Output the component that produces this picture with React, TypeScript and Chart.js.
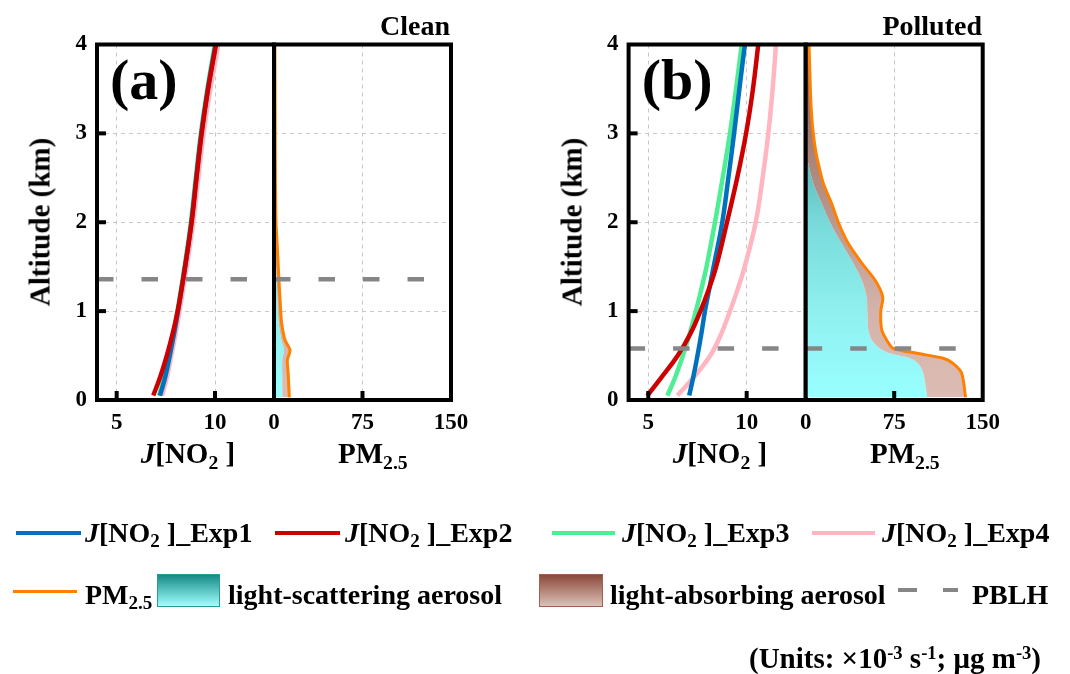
import React, { useEffect, useRef } from 'react';
import { Chart, registerables } from 'chart.js';

Chart.register(...registerables);

const FONT = "'Liberation Serif', 'Times New Roman', Times, serif";

// ---------------- data ----------------
// altitude levels of the J[NO2] profiles (km)
const ALT_J = [0.05, 0.25, 0.5, 0.75, 1, 1.25, 1.5, 2, 2.5, 3, 3.5, 4];

// Clean case, J[NO2] (x10^-3 s^-1)
const CLEAN_EXP1 = [7.2, 7.46, 7.7, 7.92, 8.12, 8.3, 8.48, 8.8, 9.05, 9.31, 9.64, 10.03];
const CLEAN_EXP2 = [6.86, 7.2, 7.55, 7.85, 8.1, 8.3, 8.48, 8.81, 9.06, 9.32, 9.65, 10.05];
const CLEAN_EXP3 = [7.15, 7.41, 7.66, 7.89, 8.09, 8.27, 8.45, 8.77, 9.02, 9.28, 9.61, 9.99];
const CLEAN_EXP4 = [7.3, 7.55, 7.78, 8.0, 8.2, 8.38, 8.56, 8.89, 9.15, 9.42, 9.76, 10.17];

// Polluted case, J[NO2]
const POLL_EXP1 = [7.08, 7.28, 7.5, 7.7, 7.88, 8.1, 8.32, 8.76, 9.07, 9.36, 9.63, 9.91];
const POLL_EXP2 = [4.95, 5.65, 6.5, 7.15, 7.65, 8.08, 8.45, 9.0, 9.52, 9.97, 10.32, 10.59];
const POLL_EXP3 = [5.97, 6.36, 6.76, 7.11, 7.42, 7.7, 7.96, 8.39, 8.78, 9.15, 9.46, 9.75];
const POLL_EXP4 = [6.48, 7.29, 8.15, 8.72, 9.15, 9.55, 9.9, 10.46, 10.81, 11.1, 11.32, 11.49];

// PM2.5 and light-scattering part (ug m^-3)
const ALT_PM_CLEAN = [0.03, 0.3, 0.45, 0.56, 0.675, 0.86, 1.0, 1.35, 1.72, 2.0, 2.5, 3.0, 4.0];
const CLEAN_PM25 = [13.0, 12.0, 11.3, 13.6, 9.3, 6.5, 5.7, 4.2, 2.8, 1.7, 1.2, 1.0, 0.8];
const CLEAN_SCAT = [7.0, 7.0, 7.0, 8.5, 6.3, 4.0, 3.3, 2.3, 1.0, 0.4, 0, 0, 0];

const ALT_PM_POLL = [0.03, 0.3, 0.41, 0.47, 0.525, 0.58, 0.675, 0.79, 1.0, 1.16, 1.35, 1.54, 1.76, 2.0, 2.21, 2.44, 2.66, 2.8, 3.0, 3.19, 3.41, 4.0];
const POLL_PM25 = [135.5, 132.2, 125.1, 116.6, 94.1, 74.2, 68.6, 64.4, 63.6, 65.3, 58.7, 47.5, 36.1, 27.6, 22.0, 14.9, 10.7, 8.5, 6.4, 5.1, 4.2, 2.8];
const POLL_SCAT = [103, 99.7, 95.4, 88.4, 71.4, 62.9, 55.9, 53.1, 52.2, 51.7, 47.5, 40.3, 30.5, 20.6, 13.6, 6.4, 2.2, 0, 0, 0, 0, 0];

const PBLH_CLEAN = 1.358;
const PBLH_POLL = 0.58;

const J_RANGE = [4, 13];
const PM_RANGE = [0, 150];
const J_TICKS = [5, 10];
const PM_TICKS = [0, 75, 150];
const ALT_TICKS = [0, 1, 2, 3, 4];
const ALT_MARKS = [1, 2, 3];
const PM_MARKS = [75];

// ---------------- styles ----------------
const C_EXP1 = '#0072BD';
const C_EXP2 = '#CC0000';
const C_EXP3 = '#4EEE94';
const C_EXP4 = '#FFB6C1';
const C_PM = '#FF8000';
const C_PBLH = '#868686';
const C_GRID = '#c8c8c8';
const CYAN_STOPS: [number, string][] = [[0, '#2a9a9a'], [0.35, '#5fbfbf'], [0.5, '#78dada'], [0.75, '#90f0f0'], [1, '#99ffff']];
const BROWN_STOPS: [number, string][] = [[0, '#94625a'], [0.125, '#9a6b60'], [0.375, '#b08a80'], [0.75, '#d4b3aa'], [1, '#dcbcb3']];

const W = 1070, H = 674, AXW = 60, AXH = 60;
const TICK_FONT = { family: FONT, size: 23, weight: 'bold' as const };

type Area = { left: number; right: number; top: number; bottom: number };

function vGrad(chart: any, stops: [number, string][]) {
  const { ctx, chartArea } = chart;
  if (!chartArea) return stops[stops.length - 1][1];
  const g = ctx.createLinearGradient(0, chartArea.top, 0, chartArea.bottom);
  stops.forEach(([p, c]) => g.addColorStop(p, c));
  return g;
}

const framePlugin = {
  id: 'frame',
  afterDatasetsDraw(chart: any, _args: any, opts: any) {
    const { ctx, chartArea: a, scales } = chart;
    ctx.save();
    ctx.strokeStyle = '#000';
    ctx.lineWidth = 4;
    ctx.strokeRect(a.left, a.top, a.right - a.left, a.bottom - a.top);
    ctx.lineCap = 'butt';
    (opts.xMarks || []).forEach((v: number) => {
      const px = scales.x.getPixelForValue(v);
      ctx.beginPath();
      ctx.moveTo(px, a.bottom);
      ctx.lineTo(px, a.bottom - 9);
      ctx.stroke();
    });
    (opts.yMarks || []).forEach((v: number) => {
      const py = scales.y.getPixelForValue(v);
      ctx.beginPath();
      ctx.moveTo(a.left, py);
      ctx.lineTo(a.left + 9, py);
      ctx.stroke();
    });
    ctx.restore();
  },
};

function pts(xs: number[], alts: number[]) {
  return alts.map((a, i) => ({ x: xs[i], y: a }));
}

function makeConfig(area: Area, xRange: number[], xTicks: number[], showY: boolean, xMarks: number[], yMarks: number[], datasets: any[]) {
  const yW = showY ? AXW : 0;
  return {
    type: 'line',
    data: { datasets },
    plugins: [framePlugin],
    options: {
      responsive: false,
      animation: false,
      events: [],
      indexAxis: 'y',
      layout: { padding: { left: area.left - yW, right: W - area.right, top: area.top, bottom: H - area.bottom - AXH } },
      plugins: { legend: { display: false }, tooltip: { enabled: false }, frame: { xMarks, yMarks } },
      scales: {
        x: {
          type: 'linear', min: xRange[0], max: xRange[1],
          afterBuildTicks: (s: any) => { s.ticks = xTicks.map((v) => ({ value: v })); },
          afterFit: (s: any) => { s.height = AXH; },
          grid: { color: C_GRID, lineWidth: 1, drawTicks: false },
          border: { display: false, dash: [4, 4] },
          ticks: { color: '#000', font: TICK_FONT, padding: 9, maxRotation: 0, autoSkip: false },
        },
        y: {
          type: 'linear', min: 0, max: 4,
          afterBuildTicks: (s: any) => { s.ticks = ALT_TICKS.map((v) => ({ value: v })); },
          afterFit: (s: any) => { s.width = yW; },
          grid: { color: C_GRID, lineWidth: 1, drawTicks: false },
          border: { display: false, dash: [4, 4] },
          ticks: { display: showY, color: '#000', font: TICK_FONT, padding: 10 },
        },
      },
    },
  };
}

function jDatasets(e1: number[], e2: number[], e3: number[], e4: number[], pblh: number) {
  const line = (label: string, xs: number[], color: string, order: number) => ({
    label, data: pts(xs, ALT_J), borderColor: color, backgroundColor: color, borderWidth: 4.5,
    pointRadius: 0, fill: false, tension: 0.4, order,
  });
  return [
    { label: 'PBLH', data: [{ x: J_RANGE[0], y: pblh }, { x: J_RANGE[1], y: pblh }], borderColor: C_PBLH, borderWidth: 4.5, borderDash: [16.5, 28], pointRadius: 0, fill: false, tension: 0, order: 0 },
    line('J[NO2]_Exp2', e2, C_EXP2, 1),
    line('J[NO2]_Exp1', e1, C_EXP1, 2),
    line('J[NO2]_Exp3', e3, C_EXP3, 3),
    line('J[NO2]_Exp4', e4, C_EXP4, 4),
  ];
}

function pmDatasets(alts: number[], pm: number[], scat: number[], pblh: number) {
  return [
    { label: 'PBLH', data: [{ x: PM_RANGE[0], y: pblh }, { x: PM_RANGE[1], y: pblh }], borderColor: C_PBLH, borderWidth: 4.5, borderDash: [16.5, 28], pointRadius: 0, fill: false, tension: 0, order: 0 },
    { label: 'light-scattering aerosol', data: pts(scat, alts), borderWidth: 0, borderColor: 'rgba(0,0,0,0)',
      backgroundColor: (c: any) => vGrad(c.chart, CYAN_STOPS), pointRadius: 0, fill: 'origin', tension: 0.25, order: 2 },
    { label: 'PM2.5', data: pts(pm, alts), borderWidth: 3, borderColor: C_PM,
      backgroundColor: (c: any) => vGrad(c.chart, BROWN_STOPS), pointRadius: 0, fill: '-1', tension: 0.25, order: 1 },
  ];
}

function ChartLayer({ build }: { build: () => any }) {
  const ref = useRef<HTMLCanvasElement | null>(null);
  useEffect(() => {
    const chart = new Chart(ref.current as HTMLCanvasElement, build());
    return () => chart.destroy();
  }, []);
  return <canvas ref={ref} width={W} height={H} style={{ position: 'absolute', left: 0, top: 0, width: W, height: H }} />;
}

const AREA_A_J: Area = { left: 97, right: 274, top: 44.5, bottom: 400 };
const AREA_A_PM: Area = { left: 274, right: 451, top: 44.5, bottom: 400 };
const AREA_B_J: Area = { left: 628.6, right: 805.7, top: 44.5, bottom: 400 };
const AREA_B_PM: Area = { left: 805.7, right: 982.7, top: 44.5, bottom: 400 };

// ---------------- text helpers ----------------
function T({ x, y, size, anchor = 'left', children }: any) {
  const tx = anchor === 'center' ? '-50%' : anchor === 'right' ? '-100%' : '0';
  return (
    <div style={{ position: 'absolute', left: x, top: y - 0.8375 * size, fontSize: size, lineHeight: `${size}px`, whiteSpace: 'nowrap', transform: `translateX(${tx})` }}>
      {children}
    </div>
  );
}
const Sub = ({ children }: any) => <span style={{ position: 'relative', top: '0.3em', fontSize: '0.68em' }}>{children}</span>;
const Sup = ({ children }: any) => <span style={{ position: 'relative', top: '-0.48em', fontSize: '0.64em' }}>{children}</span>;
const JNO2 = () => (<><i>J</i>[NO<Sub>2</Sub>{'\u00a0'}]</>);

function VText({ cx, cy, size, children }: any) {
  return (
    <div style={{ position: 'absolute', left: cx, top: cy, fontSize: size, lineHeight: `${size}px`, whiteSpace: 'nowrap', transform: 'translate(-50%, -50%) rotate(-90deg)' }}>
      {children}
    </div>
  );
}

function LegLine({ x1, x2, y, color, w }: any) {
  return <div style={{ position: 'absolute', left: x1, top: y - w / 2, width: x2 - x1, height: w, background: color }} />;
}
function LegBox({ x, y, w, h, top, bottom, border }: any) {
  return <div style={{ position: 'absolute', left: x, top: y, width: w, height: h, boxSizing: 'border-box', border: `1.5px solid ${border}`, background: `linear-gradient(to bottom, ${top}, ${bottom})` }} />;
}

export default function App() {
  return (
    <div style={{ position: 'absolute', left: 0, top: 0, width: W, height: H, background: '#fff', fontFamily: FONT, fontWeight: 'bold', color: '#000', overflow: 'hidden' }}>
      <ChartLayer build={() => makeConfig(AREA_A_J, J_RANGE, J_TICKS, true, J_TICKS, ALT_MARKS, jDatasets(CLEAN_EXP1, CLEAN_EXP2, CLEAN_EXP3, CLEAN_EXP4, PBLH_CLEAN))} />
      <ChartLayer build={() => makeConfig(AREA_A_PM, PM_RANGE, PM_TICKS, false, PM_MARKS, [], pmDatasets(ALT_PM_CLEAN, CLEAN_PM25, CLEAN_SCAT, PBLH_CLEAN))} />
      <ChartLayer build={() => makeConfig(AREA_B_J, J_RANGE, J_TICKS, true, J_TICKS, ALT_MARKS, jDatasets(POLL_EXP1, POLL_EXP2, POLL_EXP3, POLL_EXP4, PBLH_POLL))} />
      <ChartLayer build={() => makeConfig(AREA_B_PM, PM_RANGE, PM_TICKS, false, PM_MARKS, [], pmDatasets(ALT_PM_POLL, POLL_PM25, POLL_SCAT, PBLH_POLL))} />

      {/* panel (a) */}
      <VText cx={40} cy={222} size={29}>Altitude (km)</VText>
      <T x={110} y={99.5} size={58}>(a)</T>
      <T x={450} y={35} size={28} anchor="right">Clean</T>
      <T x={188} y={463} size={29} anchor="center"><JNO2 /></T>
      <T x={338} y={463} size={29}>PM<Sub>2.5</Sub></T>

      {/* panel (b) */}
      <VText cx={572} cy={222} size={29}>Altitude (km)</VText>
      <T x={641.7} y={99.5} size={58}>(b)</T>
      <T x={982} y={35} size={28} anchor="right">Polluted</T>
      <T x={720} y={463} size={29} anchor="center"><JNO2 /></T>
      <T x={870} y={463} size={29}>PM<Sub>2.5</Sub></T>

      {/* legend row 1 */}
      <LegLine x1={16} x2={81} y={533} color={C_EXP1} w={4.5} />
      <T x={85} y={542} size={28}><JNO2 />_Exp1</T>
      <LegLine x1={275} x2={340} y={533} color={C_EXP2} w={4.5} />
      <T x={345} y={542} size={28}><JNO2 />_Exp2</T>
      <LegLine x1={552} x2={615} y={533} color={C_EXP3} w={4.5} />
      <T x={622} y={542} size={28}><JNO2 />_Exp3</T>
      <LegLine x1={812} x2={875} y={533} color={C_EXP4} w={4.5} />
      <T x={882} y={542} size={28}><JNO2 />_Exp4</T>

      {/* legend row 2 */}
      <LegLine x1={13} x2={77} y={591} color={C_PM} w={3} />
      <T x={85} y={604} size={28}>PM<Sub>2.5</Sub></T>
      <LegBox x={157} y={574} w={63} h={33} top="#168a85" bottom="#a0ffff" border="#2a9a95" />
      <T x={228} y={604} size={28}>light-scattering aerosol</T>
      <LegBox x={539} y={574} w={64} h={33} top="#8b4a3a" bottom="#dcc0b8" border="#a0604e" />
      <T x={610} y={604} size={28}>light-absorbing aerosol</T>
      <LegLine x1={898} x2={917} y={590} color={C_PBLH} w={4.5} />
      <LegLine x1={943} x2={958} y={590} color={C_PBLH} w={4.5} />
      <T x={972} y={604} size={28}>PBLH</T>

      <T x={1041} y={668} size={29} anchor="right">(Units: ×10<Sup>-3</Sup> s<Sup>-1</Sup>; μg m<Sup>-3</Sup>)</T>
    </div>
  );
}
